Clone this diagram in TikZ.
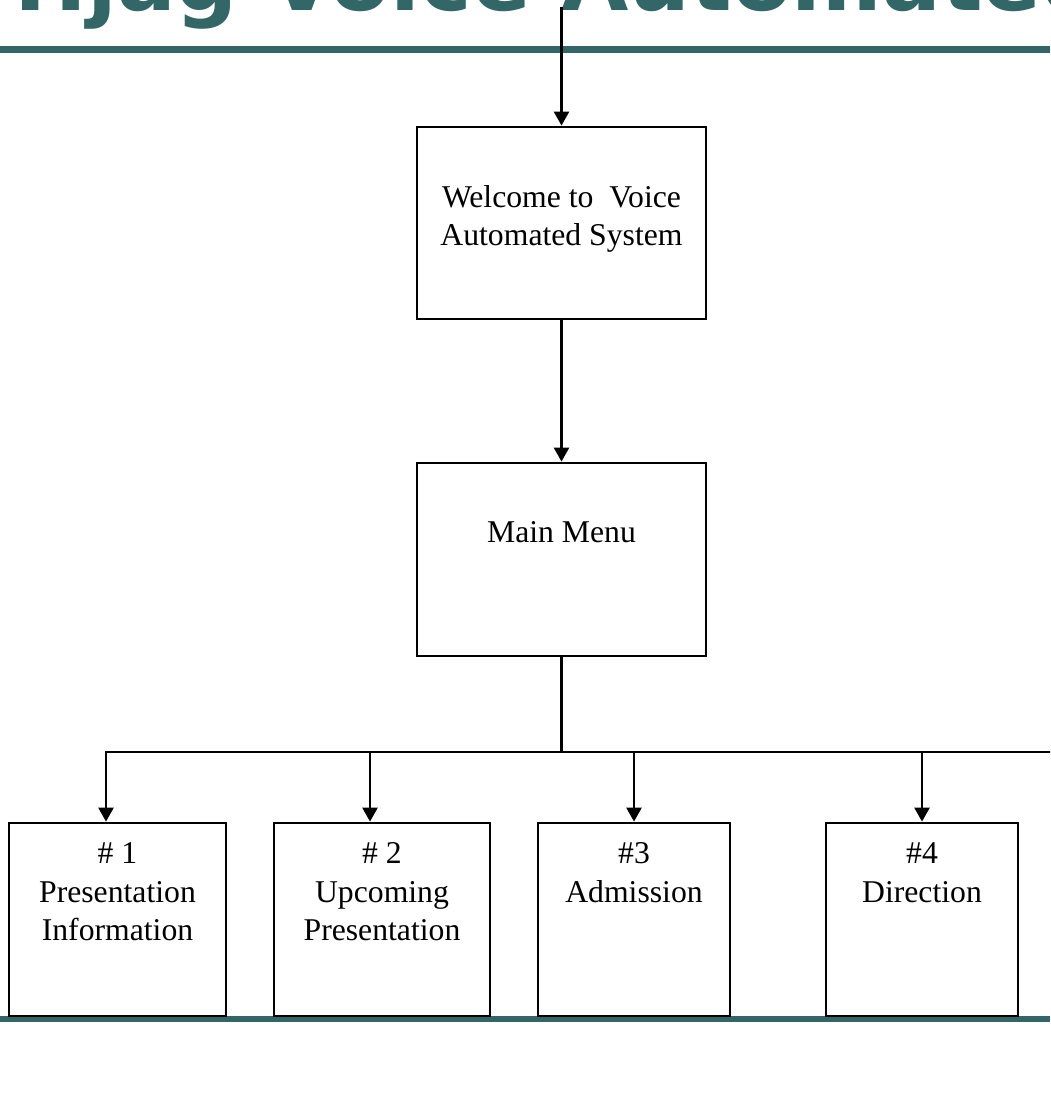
\documentclass[tikz,border=0pt]{standalone}
\usepackage{fontspec}
\setmainfont{Liberation Serif}
\newfontfamily\titlefont{DejaVu Sans}
\usetikzlibrary{arrows.meta}
\definecolor{slideteal}{RGB}{51,102,102}

\tikzset{every picture/.style={line width=0.75pt}}
\tikzset{
	menubox/.style={draw, rectangle, line width=2.8pt, inner sep=0pt},
	boxtext/.style={anchor=north, inner sep=0pt, align=center, font=\fontsize{31.7}{38.5}\selectfont},
	flow/.style={line width=2.5pt, -{Triangle[length=14pt,width=15pt]}},
	bus/.style={line width=2.5pt, line cap=rect}
}

\begin{document}
\begin{tikzpicture}[x=1pt,y=1pt,yscale=-1,xscale=1]
	\clip (0,0) rectangle (1050,1108);
	
	% Title (cut off at the top)
	\node (title) [anchor=base west, inner sep=0pt, text=slideteal, font=\titlefont\bfseries\fontsize{87}{87}\selectfont] at (14,11) {Hjag Voice Automated};
	%Rules
	\fill [slideteal] (0,46) rectangle (1050,53);
	\fill [slideteal] (0,1016) rectangle (1050,1022);
	
	%Shape: Rectangle
	\node (welcome) [menubox, minimum width=289, minimum height=192] at (561.5,223) {};
	\node (mainmenu) [menubox, minimum width=289, minimum height=193] at (561.5,559.5) {};
	\node (optone) [menubox, minimum width=217, minimum height=193] at (117.5,919.5) {};
	\node (opttwo) [menubox, minimum width=216, minimum height=193] at (382,919.5) {};
	\node (optthree) [menubox, minimum width=192, minimum height=193] at (634,919.5) {};
	\node (optfour) [menubox, minimum width=192, minimum height=193] at (922,919.5) {};
	
	% Text Node
	\node (welcometext) [boxtext] at (561.5,185) {Welcome to\ \ Voice\\Automated System};
	% Text Node
	\node (menutext) [boxtext] at (561.5,521) {Main Menu};
	% Text Node
	\node (onetext) [boxtext] at (117.5,842.6) {\# 1\\Presentation\\Information};
	\node (twotext) [boxtext] at (382,842.6) {\# 2\\Upcoming\\Presentation};
	\node (threetext) [boxtext] at (634,842.6) {\#3\\Admission};
	\node (fourtext) [boxtext] at (922,842.6) {\#4\\Direction};
	
	%Straight Lines
	\coordinate (entry) at (561.5,7);
	\draw [flow] (entry) -- (welcome.north);
	\draw [flow] (welcome.south) -- (mainmenu.north);
	
	\coordinate (dropone) at (106,752);
	\coordinate (droptwo) at (370,752);
	\coordinate (dropthree) at (634,752);
	\coordinate (dropfour) at (922,752);
	\coordinate (busend) at (1052,752);
	\draw [bus] (mainmenu.south) -- (mainmenu.south |- dropone);
	\draw [bus] (dropone) -- (busend);
	\foreach \drop/\opt in {dropone/optone, droptwo/opttwo, dropthree/optthree, dropfour/optfour}
		\draw [flow] (\drop) -- (\drop |- \opt.north);
	
\end{tikzpicture}
\end{document}
